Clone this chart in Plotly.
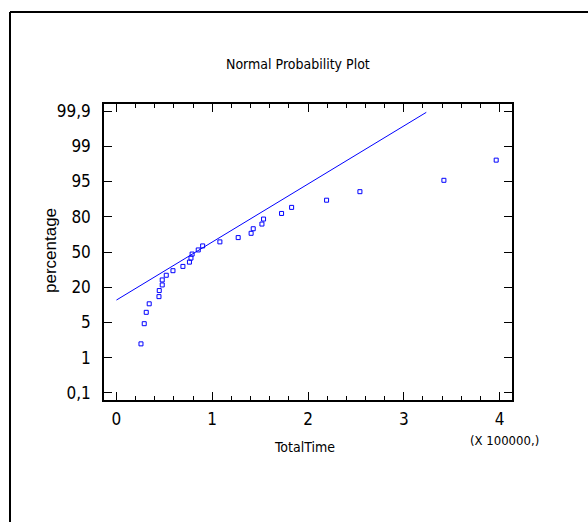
from statistics import NormalDist
import plotly.graph_objects as go

# ---- data ----
total_time = [25600, 29000, 31100, 34200, 44400, 44700, 47800, 47800, 52000, 59000,
              69400, 76200, 77800, 79000, 85400, 90000, 108000, 127100, 140600, 142800,
              151900, 153600, 172400, 182900, 219400, 254200, 341900, 396500]
percentage = [2.2, 5.8, 9.3, 12.8, 16.4, 19.9, 23.5, 27.0, 30.5, 34.1,
              37.6, 41.2, 44.7, 48.2, 51.8, 55.3, 58.8, 62.4, 65.9, 69.5,
              73.0, 76.5, 80.1, 83.6, 87.2, 90.7, 94.2, 97.8]
line_x = [0, 323500]
line_pct = [14.6, 99.89]
y_tick_labels = ["0,1", "1", "5", "20", "50", "80", "95", "99", "99,9"]
x_tick_vals = [0, 1, 2, 3, 4]
x_scale = 100000

nd = NormalDist()
def z(p):
    return nd.inv_cdf(p / 100.0)

xs = [v / x_scale for v in total_time]
ys = [z(p) for p in percentage]
lx = [v / x_scale for v in line_x]
ly = [z(p) for p in line_pct]

zmax = z(99.9)
n_t = len(y_tick_labels)
y_tick_vals = [zmax * (2 * k / (n_t - 1) - 1) for k in range(n_t)]

FONT = "Liberation Sans Narrow, Arial Narrow, DejaVu Sans Condensed, Arial, sans-serif"
BLUE = "#0000ff"

fig = go.Figure()
fig.add_trace(go.Scatter(x=lx, y=ly, mode="lines",
                         line=dict(color=BLUE, width=1), showlegend=False,
                         hoverinfo="skip"))
fig.add_trace(go.Scatter(x=xs, y=ys, mode="markers",
                         marker=dict(symbol="square-open", size=4, color=BLUE,
                                     line=dict(color=BLUE, width=1)),
                         showlegend=False))

L, R, T, B = 104, 76, 104, 122
W, H = 588, 522
pw, ph = W - L - R, H - T - B

def px(x):
    return (x - L) / pw

def py(y):
    return (H - B - y) / ph

fig.update_layout(
    width=W, height=H,
    margin=dict(l=L, r=R, t=T, b=B, pad=0),
    paper_bgcolor="white", plot_bgcolor="white",
    font=dict(family=FONT, color="black", size=15),
    xaxis=dict(range=[-0.13, 4.13], tickvals=x_tick_vals,
               ticktext=[str(v) for v in x_tick_vals],
               ticks="inside", ticklen=8, tickwidth=1, tickcolor="black",
               minor=dict(dtick=0.2, ticks="inside", ticklen=4, tickwidth=1,
                          tickcolor="black", showgrid=False),
               showline=True, linecolor="black", linewidth=1.5, mirror="allticks",
               showgrid=False, zeroline=False,
               tickfont=dict(family=FONT, size=17), ticklabelstandoff=3),
    yaxis=dict(range=[-3.245, 3.245], tickvals=y_tick_vals, ticktext=y_tick_labels,
               ticks="inside", ticklen=8, tickwidth=1, tickcolor="black",
               showline=True, linecolor="black", linewidth=1.5, mirror="allticks",
               showgrid=False, zeroline=False,
               tickfont=dict(family=FONT, size=17), ticklabelstandoff=8),
    shapes=[
        dict(type="line", xref="paper", yref="paper", x0=px(10), x1=px(600),
             y0=py(12), y1=py(12), line=dict(color="black", width=2)),
        dict(type="line", xref="paper", yref="paper", x0=px(10), x1=px(10),
             y0=py(12), y1=py(530), line=dict(color="black", width=2)),
    ],
    annotations=[
        dict(text="Normal Probability Plot", xref="paper", yref="paper",
             x=px(298), y=py(64), xanchor="center", yanchor="middle",
             showarrow=False, font=dict(family=FONT, size=14)),
        dict(text="TotalTime", xref="paper", yref="paper",
             x=px(304), y=py(447), xanchor="center", yanchor="middle",
             showarrow=False, font=dict(family=FONT, size=14)),
        dict(text="(X 100000,)", xref="paper", yref="paper",
             x=px(504), y=py(440), xanchor="center", yanchor="middle",
             showarrow=False, font=dict(family=FONT, size=13)),
        dict(text="percentage", xref="paper", yref="paper",
             x=px(50), y=py(251), xanchor="center", yanchor="middle",
             textangle=-90, showarrow=False,
             font=dict(family="Liberation Sans, Arial, sans-serif", size=17)),
    ],
)

fig.write_html("out.html")
